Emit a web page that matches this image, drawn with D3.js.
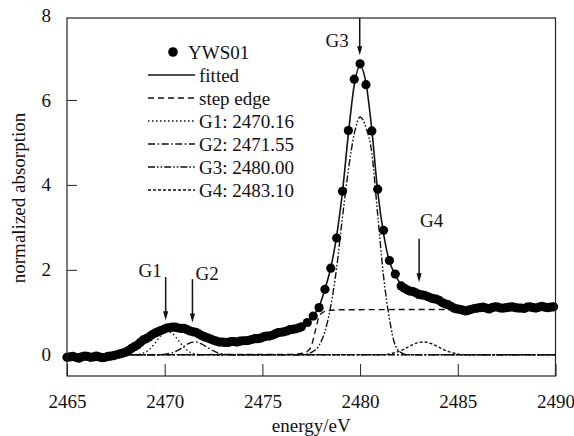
<!DOCTYPE html>
<html>
<head>
<meta charset="utf-8">
<script src="https://cdn.jsdelivr.net/npm/d3@7"></script>
<style>
  html, body { margin: 0; padding: 0; background: #fff; }
  svg { display: block; }
</style>
</head>
<body>
<svg id="chart" width="574" height="436"></svg>
<script>
// measured spectrum (YWS01), 0.3 eV steps
const energy = [2465.0, 2465.3, 2465.6, 2465.9, 2466.2, 2466.5, 2466.8, 2467.1, 2467.4, 2467.7,
  2468.0, 2468.3, 2468.6, 2468.9, 2469.2, 2469.5, 2469.8, 2470.1, 2470.4, 2470.7,
  2471.0, 2471.3, 2471.6, 2471.9, 2472.2, 2472.5, 2472.8, 2473.1, 2473.4, 2473.7,
  2474.0, 2474.3, 2474.6, 2474.9, 2475.2, 2475.5, 2475.8, 2476.1, 2476.4, 2476.7,
  2477.0, 2477.3, 2477.6, 2477.9, 2478.2, 2478.5, 2478.8, 2479.1, 2479.4, 2479.7,
  2480.0, 2480.3, 2480.6, 2480.9, 2481.2, 2481.5, 2481.8, 2482.1, 2482.4, 2482.7,
  2483.0, 2483.3, 2483.6, 2483.9, 2484.2, 2484.5, 2484.8, 2485.1, 2485.4, 2485.7,
  2486.0, 2486.3, 2486.6, 2486.9, 2487.2, 2487.5, 2487.8, 2488.1, 2488.4, 2488.7,
  2489.0, 2489.3, 2489.6, 2489.9];
const absorption = [-0.06, -0.04, -0.08, -0.03, -0.06, -0.03, -0.07, -0.04, -0.02, 0.02,
  0.06, 0.15, 0.23, 0.35, 0.42, 0.51, 0.57, 0.63, 0.65, 0.63,
  0.62, 0.56, 0.53, 0.45, 0.40, 0.34, 0.30, 0.29, 0.31, 0.30,
  0.33, 0.34, 0.38, 0.39, 0.44, 0.46, 0.52, 0.54, 0.59, 0.61,
  0.66, 0.76, 0.91, 1.11, 1.54, 2.04, 2.75, 3.85, 5.28, 6.49,
  6.85, 6.36, 5.27, 3.90, 2.93, 2.22, 1.90, 1.62, 1.53, 1.49,
  1.42, 1.40, 1.34, 1.31, 1.23, 1.18, 1.10, 1.07, 1.03, 1.07,
  1.10, 1.12, 1.08, 1.13, 1.10, 1.11, 1.13, 1.10, 1.09, 1.13,
  1.10, 1.14, 1.11, 1.13];

// extra points in the dense pre-edge and post-edge parts of the scan
const energyFine = [2465.15, 2465.45, 2465.75, 2466.05, 2466.35, 2466.65, 2466.95, 2467.25, 2467.55, 2467.85,
  2468.15, 2468.45, 2468.75, 2469.05, 2469.35, 2469.65, 2469.95, 2470.25, 2470.55, 2470.85,
  2471.15, 2471.45, 2471.75, 2472.05, 2472.35, 2472.65, 2472.95, 2473.25, 2473.55, 2473.85,
  2474.15, 2474.45, 2474.75, 2475.05, 2475.35, 2475.65, 2475.95, 2476.25, 2476.55, 2476.85,
  2482.25, 2482.55, 2482.85, 2483.15, 2483.45, 2483.75, 2484.05, 2484.35, 2484.65, 2484.95,
  2485.25, 2485.55, 2485.85, 2486.15, 2486.45, 2486.75, 2487.05, 2487.35, 2487.65, 2487.95,
  2488.25, 2488.55, 2488.85, 2489.15, 2489.45, 2489.75];
const absorptionFine = [-0.05, -0.06, -0.05, -0.04, -0.05, -0.05, -0.06, -0.03, 0.00, 0.04,
  0.10, 0.19, 0.29, 0.38, 0.47, 0.54, 0.60, 0.64, 0.65, 0.62,
  0.59, 0.54, 0.49, 0.42, 0.37, 0.32, 0.30, 0.29, 0.31, 0.32,
  0.33, 0.36, 0.38, 0.42, 0.44, 0.49, 0.53, 0.56, 0.60, 0.63,
  1.57, 1.50, 1.46, 1.41, 1.37, 1.32, 1.28, 1.20, 1.14, 1.08,
  1.05, 1.05, 1.09, 1.11, 1.10, 1.11, 1.12, 1.10, 1.12, 1.11,
  1.10, 1.12, 1.11, 1.12, 1.12, 1.12];

const fitted = [-0.05, -0.05, -0.05, -0.04, -0.04, -0.04, -0.04, -0.04, -0.02, 0.01,
  0.06, 0.14, 0.24, 0.34, 0.43, 0.50, 0.57, 0.62, 0.64, 0.63,
  0.61, 0.56, 0.51, 0.45, 0.39, 0.34, 0.31, 0.29, 0.30, 0.31,
  0.32, 0.34, 0.37, 0.39, 0.43, 0.46, 0.50, 0.54, 0.58, 0.61,
  0.66, 0.76, 0.92, 1.13, 1.55, 2.05, 2.80, 3.85, 5.20, 6.35,
  6.80, 6.40, 5.30, 3.85, 2.85, 2.20, 1.88, 1.65, 1.54, 1.48,
  1.43, 1.39, 1.35, 1.30, 1.24, 1.17, 1.11, 1.07, 1.06, 1.07,
  1.09, 1.10, 1.10, 1.11, 1.11, 1.11, 1.11, 1.11, 1.11, 1.11,
  1.11, 1.12, 1.12, 1.12];

// fit components
const stepE = [2465.0, 2476.5, 2477.0, 2477.3, 2477.5, 2477.7, 2477.9, 2478.1, 2478.4, 2479.0, 2490.0];
const stepV = [0.00, 0.01, 0.03, 0.08, 0.20, 0.55, 0.90, 1.00, 1.04, 1.06, 1.07];

const g1E = [2465.0, 2468.3, 2468.6, 2468.9, 2469.2, 2469.5, 2469.8, 2470.1, 2470.4, 2470.7, 2471.0, 2471.3, 2471.6, 2471.9, 2490.0];
const g1V = [0.00, 0.00, 0.01, 0.04, 0.12, 0.27, 0.45, 0.55, 0.50, 0.34, 0.17, 0.06, 0.02, 0.00, 0.00];

const g2E = [2465.0, 2469.8, 2470.1, 2470.4, 2470.7, 2471.0, 2471.3, 2471.6, 2471.9, 2472.2, 2472.5, 2472.8, 2473.1, 2473.4, 2490.0];
const g2V = [0.00, 0.00, 0.02, 0.05, 0.11, 0.20, 0.28, 0.30, 0.25, 0.17, 0.09, 0.03, 0.01, 0.00, 0.00];

const g3E = [2465.0, 2477.0, 2477.3, 2477.6, 2477.9, 2478.2, 2478.5, 2478.8, 2479.1, 2479.4, 2479.7, 2480.0, 2480.3, 2480.6, 2480.9, 2481.2, 2481.5, 2481.8, 2482.1, 2482.4, 2490.0];
const g3V = [0.00, 0.00, 0.02, 0.08, 0.22, 0.55, 1.15, 2.05, 3.25, 4.35, 5.20, 5.60, 5.35, 4.75, 3.30, 1.85, 0.85, 0.22, 0.05, 0.00, 0.00];

const g4E = [2465.0, 2481.2, 2481.5, 2481.8, 2482.1, 2482.4, 2482.7, 2483.0, 2483.3, 2483.6, 2483.9, 2484.2, 2484.5, 2484.8, 2485.1, 2485.4, 2490.0];
const g4V = [0.00, 0.00, 0.02, 0.05, 0.10, 0.17, 0.24, 0.29, 0.30, 0.27, 0.21, 0.14, 0.08, 0.04, 0.01, 0.00, 0.00];

const gNames = ["G1", "G2", "G3", "G4"];
const gCenters = [2470.16, 2471.55, 2480.00, 2483.10];

// arrows pointing at the peaks
const arrowE = [2470.05, 2471.42, 2479.98, 2483.02];
const arrowTop = [1.83, 1.78, 7.93, 2.73];
const arrowTip = [0.81, 0.76, 7.05, 1.71];

const xTicks = [2465, 2470, 2475, 2480, 2485, 2490];
const yTicks = [0, 2, 4, 6, 8];

// layout
const margin = { top: 18, right: 18.5, bottom: 60, left: 67 };
const W = 574, H = 436;
const font = 19;
const family = '"Liberation Serif", "Times New Roman", Times, serif';

const svg = d3.select("#chart");
const x = d3.scaleLinear().domain([2465, 2490]).range([margin.left, W - margin.right]);
const y = d3.scaleLinear().domain([-0.5, 7.93]).range([H - margin.bottom, margin.top]);

const plotBottom = H - margin.bottom;

// axes (ticks point inward)
const xAxis = svg.append("g")
  .attr("transform", `translate(0,${plotBottom})`)
  .call(d3.axisBottom(x).tickValues(xTicks).tickFormat(d3.format("d")).tickSize(-12).tickPadding(18.5));
const yAxis = svg.append("g")
  .attr("transform", `translate(${margin.left},0)`)
  .call(d3.axisLeft(y).tickValues(yTicks).tickFormat(d3.format("d")).tickSize(-10).tickPadding(16));

[xAxis, yAxis].forEach(a => {
  a.select(".domain").remove();
  a.attr("font-size", font);
  a.selectAll("text").attr("fill", "#111").style("font-family", family);
  a.selectAll("line").attr("stroke", "#222");
});
yAxis.selectAll(".tick").filter(d => d === 8).select("line").remove();

// series
const comps = [
  { e: stepE, v: stepV, dash: "6,4" },
  { e: g1E, v: g1V, dash: "1.5,2.5" },
  { e: g2E, v: g2V, dash: "7,2.5,1.6,2.5" },
  { e: g3E, v: g3V, dash: "7,2,1.6,2,1.6,2" },
  { e: g4E, v: g4V, dash: "3,2" }
];

const line = d3.line()
  .x(d => x(d[0]))
  .y(d => y(d[1]))
  .curve(d3.curveMonotoneX);

const plot = svg.append("g");

comps.forEach(c => {
  plot.append("path")
    .attr("d", line(d3.zip(c.e, c.v)))
    .attr("fill", "none")
    .attr("stroke", "#111")
    .attr("stroke-width", 1.4)
    .attr("stroke-dasharray", c.dash);
});

plot.append("path")
  .attr("d", line(d3.zip(energy, fitted)))
  .attr("fill", "none")
  .attr("stroke", "#111")
  .attr("stroke-width", 1.6);

const points = d3.zip(energy, absorption).concat(d3.zip(energyFine, absorptionFine));
plot.selectAll("circle.pt")
  .data(points)
  .join("circle")
  .attr("class", "pt")
  .attr("cx", d => x(d[0]))
  .attr("cy", d => y(d[1]))
  .attr("r", 4.6)
  .attr("fill", "#000");

// frame
svg.append("rect")
  .attr("x", margin.left)
  .attr("y", margin.top)
  .attr("width", W - margin.left - margin.right)
  .attr("height", plotBottom - margin.top)
  .attr("fill", "none")
  .attr("stroke", "#222")
  .attr("stroke-width", 1.2);

const addText = (sel, x0, y0, str, anchor) => sel.append("text")
  .attr("x", x0)
  .attr("y", y0)
  .attr("text-anchor", anchor || "start")
  .attr("font-size", font)
  .attr("fill", "#111")
  .style("font-family", family)
  .text(str);

// arrows + labels
const labelPos = [
  { anchor: "end", dx: -4, dy: 0 },
  { anchor: "start", dx: 3, dy: 1 },
  { anchor: "end", dx: -11, dy: 29 },
  { anchor: "start", dx: 1, dy: -12 }
];
gNames.forEach((name, i) => {
  const ax = x(arrowE[i]);
  const y0 = y(arrowTop[i]);
  const y1 = y(arrowTip[i]);
  svg.append("line")
    .attr("x1", ax).attr("x2", ax)
    .attr("y1", y0).attr("y2", y1 - 6)
    .attr("stroke", "#111")
    .attr("stroke-width", 1.5);
  svg.append("path")
    .attr("d", `M${ax - 2.6},${y1 - 9} L${ax + 2.6},${y1 - 9} L${ax},${y1} Z`)
    .attr("fill", "#111");
  const lp = labelPos[i];
  addText(svg, ax + lp.dx, y0 + lp.dy, name, lp.anchor);
});

// legend
const legendX = 148, legendY = 52, rowH = 23;
const legendRows = [
  { label: "YWS01", marker: true },
  { label: "fitted", dash: null },
  { label: "step edge", dash: comps[0].dash }
].concat(gNames.map((g, i) => ({ label: `${g}: ${gCenters[i].toFixed(2)}`, dash: comps[i + 1].dash })));

const legend = svg.append("g");
legendRows.forEach((r, i) => {
  const ly = legendY + i * rowH;
  if (r.marker) {
    legend.append("circle")
      .attr("cx", legendX + 25)
      .attr("cy", ly)
      .attr("r", 4.8)
      .attr("fill", "#000");
  } else {
    legend.append("line")
      .attr("x1", legendX).attr("x2", legendX + 47)
      .attr("y1", ly).attr("y2", ly)
      .attr("stroke", "#111")
      .attr("stroke-width", r.dash ? 1.4 : 1.6)
      .attr("stroke-dasharray", r.dash);
  }
  addText(legend, legendX + (r.marker ? 40 : 51), ly + 7, r.label);
});

// axis titles
addText(svg, (margin.left + W - margin.right) / 2, 432, "energy/eV", "middle");

addText(svg, 0, 0, "normalized absorption", "middle")
  .attr("transform", "translate(25,198) rotate(-90)");
</script>
</body>
</html>
